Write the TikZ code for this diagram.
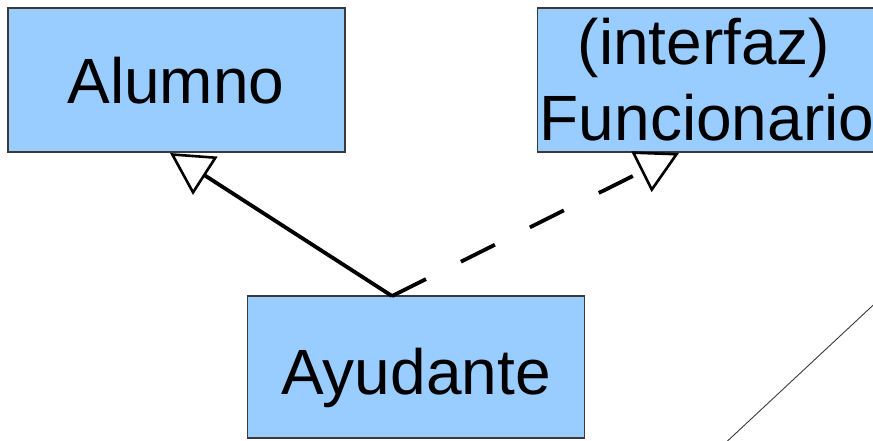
\documentclass[tikz,border=0pt]{standalone}
\usepackage{fontspec}
\setmainfont{Liberation Sans}
\usetikzlibrary{arrows.meta}
\definecolor{boxblue}{HTML}{99CCFF}
\definecolor{boxline}{HTML}{3A3A3A}
\tikzset{
  classbox/.style={draw=boxline, line width=1.3pt, fill=boxblue, rectangle, minimum width=337pt, inner sep=0pt},
  lbl/.style={anchor=base, inner sep=0pt, font=\fontsize{64}{76}\selectfont},
  inherit/.style={line width=3.8pt, -{Triangle[open, length=42pt, width=45pt, line width=2.6pt, fill=white]}},
  realize/.style={inherit, dash pattern=on 38pt off 39pt},
}
\begin{document}
\begin{tikzpicture}[x=1pt, y=-1pt]
\useasboundingbox (0,0) rectangle (873,440);
\clip (0,0) rectangle (873,440);
\node[classbox, minimum height=144pt] (al) at (176.5,80) {};
\node[lbl] (alt) at (176,103) {Alumno};
\node[classbox, minimum height=144pt] (fu) at (706,80) {};
\node[lbl] (fut1) at (704,64) {(interfaz)};
\node[lbl] (fut2) at (707,140) {Funcionario};
\node[classbox, minimum height=142pt] (ay) at (416,367) {};
\node[lbl] (ayt) at (416,394) {Ayudante};
\coordinate (ayj) at (392,296);
\coordinate (altip) at (170,153);
\coordinate (futip) at (679,153);
\draw[inherit] (ayj) -- (altip);
\draw[realize] (ayj) -- (futip);
\coordinate (d1) at (884,295);
\coordinate (d2) at (720,448);
\draw[line width=0.9pt, color=boxline] (d1) -- (d2);
\end{tikzpicture}
\end{document}
